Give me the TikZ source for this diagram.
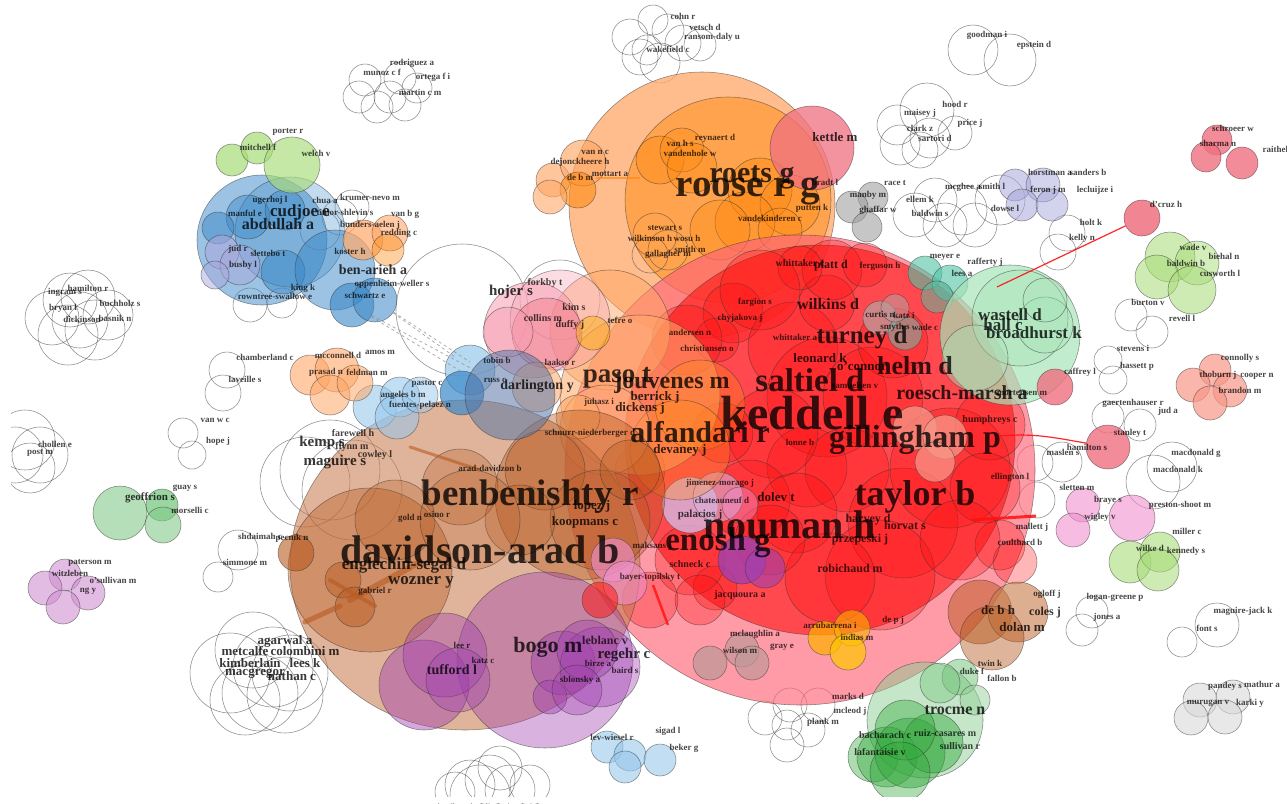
\documentclass[tikz,border=0pt]{standalone}
\usepackage{fontspec}
\setmainfont{Liberation Serif}
\definecolor{cRed}{HTML}{FF1010}
\definecolor{cPink}{HTML}{FF6478}
\definecolor{cOrange}{HTML}{FF8A10}
\definecolor{cPeach}{HTML}{FFA868}
\definecolor{cBrown}{HTML}{B85A20}
\definecolor{cTan}{HTML}{C87848}
\definecolor{cPurple}{HTML}{A040B0}
\definecolor{cBlue}{HTML}{3A88C8}
\definecolor{cSky}{HTML}{98C8EC}
\definecolor{cSlate}{HTML}{5A78A8}
\definecolor{cLime}{HTML}{A8DC78}
\definecolor{cGreen}{HTML}{30A83A}
\definecolor{cMint}{HTML}{A8E4B8}
\definecolor{cTeal}{HTML}{50C4A4}
\definecolor{cLav}{HTML}{A8A8DC}
\definecolor{cRose}{HTML}{F07080}
\definecolor{cSalmon}{HTML}{F89888}
\definecolor{cMagenta}{HTML}{F090D0}
\definecolor{cGold}{HTML}{FFB000}
\definecolor{cGray}{HTML}{A0A0A0}
\definecolor{cMauve}{HTML}{C09898}
\definecolor{cOrchid}{HTML}{D090D0}
\definecolor{cLilac}{HTML}{D8B0D8}
\definecolor{cPinkL}{HTML}{F8A0B4}
\tikzset{
  bub/.style={draw=black!80, draw opacity=0.55, line width=0.55pt},
  ring/.style={draw=black!75, draw opacity=0.6, line width=0.55pt},
  lbl/.style={text=black, text opacity=0.72, inner sep=0pt},
  namedbub/.style={circle, inner sep=0pt, bub},
  redlink/.style={draw=cRed, line width=1.2pt, opacity=0.9},
  greylink/.style={draw=black!45, dashed, line width=0.8pt, opacity=0.7},
  brownlink/.style={draw=cBrown, opacity=0.6, line cap=round}
}
\begin{document}
\begin{tikzpicture}[x=1pt,y=-1pt]
\useasboundingbox (0,0) rectangle (1287,803);
\clip (0,0) rectangle (1287,803);
\fill[white] (0,0) rectangle (1287,803);

% ---- unfilled author rings ----
\foreach \xx/\yy/\rr in {
  668/30/16, 653/20/15, 683/43/18, 660/63/20, 647/50/15, 630/37/18, 640/57/18, 700/45/16,
  365/80/16, 359/97/16, 377/107/16, 390/97/16, 405/105/16, 417/88/15, 400/78/16,
  973/50/25, 1010/60/26,
  897/125/20, 927/110/27, 900/145/20, 920/150/18, 955/133/17, 930/138/20,
  935/200/22, 962/210/25, 915/215/22, 945/225/22, 1000/200/25, 975/225/22,
  1067/233/18, 1058/252/18, 1131/315/16, 1152/332/16, 1108/360/14, 1113/380/14,
  1108/417/16, 1140/425/16, 1062/462/20, 1037/500/18, 1035/463/18,
  1172/467/25, 1153/482/27, 1092/612/16, 1082/630/16, 1217/625/22, 1182/642/15,
  227/370/18, 223/393/18, 183/433/15, 192/455/14,
  52/318/27, 70/300/27, 88/297/27, 68/335/30, 95/330/30, 108/315/25, 80/320/28,
  25/440/30, 40/455/28, 15/455/28, 30/468/25,
  238/550/20, 218/577/15,
  253/650/38, 230/673/40, 273/667/40, 260/693/38, 290/673/38, 245/700/35, 285/695/38,
  470/785/25, 490/780/25, 510/790/25, 455/792/20, 500/768/22, 530/785/20, 480/795/30,
  765/718/17, 790/705/17, 818/705/17, 787/725/15, 808/730/17, 787/745/17,
  320/230/20, 352/207/17, 340/217/18, 250/305/17, 282/303/15,
  330/470/50, 305/482/45, 352/490/50, 462/310/66, 560/300/40}
  {\draw[ring] (\xx,\yy) circle (\rr);}

% ---- orange / peach cluster ----
\foreach \xx/\yy/\rr/\col/\op in {
  702/205/133/cPeach/.75, 728/200/103/cOrange/.5,
  660/160/24/cOrange/.45, 682/150/22/cOrange/.4, 692/168/25/cOrange/.4,
  760/190/32/cOrange/.45, 790/205/30/cOrange/.4, 745/222/30/cOrange/.4,
  720/230/30/cOrange/.35, 780/230/22/cOrange/.35,
  553/180/17/cPeach/.65, 583/163/23/cPeach/.65, 578/190/18/cOrange/.6, 550/197/17/cPeach/.6,
  812/148/42/cRose/.75}
  {\filldraw[bub, fill=\col, fill opacity=\op] (\xx,\yy) circle (\rr);}
\foreach \xx/\yy/\rr in {655/235/22, 668/250/20, 650/255/18}
  {\draw[ring] (\xx,\yy) circle (\rr);}

% ---- red cluster ----
\filldraw[bub, fill=cPink, fill opacity=.65] (800,470) circle (235);
\filldraw[bub, fill=cRed, fill opacity=.58] (820,440) circle (195);
\foreach \xx/\yy/\rr in {
  733/313/30, 717/340/22, 793/347/45, 827/303/28, 827/397/60, 807/467/40, 847/470/42,
  873/397/50, 893/343/35, 773/433/45, 750/500/40, 797/513/40, 903/523/55, 723/433/30,
  687/340/35, 880/575/55, 830/578/45, 770/540/35, 715/588/22, 690/560/35, 832/270/30,
  800/268/22, 950/468/60, 990/425/35, 985/488/35, 1000/545/25, 1015/562/22, 960/540/40,
  865/265/22, 760/290/40, 700/600/25, 650/600/28, 640/470/25}
  {\filldraw[bub, fill=cRed, fill opacity=.3] (\xx,\yy) circle (\rr);}
\foreach \xx/\yy/\rr/\col/\op in {
  915/428/22/cSalmon/.75, 945/437/22/cSalmon/.75, 935/462/20/cSalmon/.7,
  690/505/28/cLilac/.85, 718/497/25/cLilac/.6, 740/505/18/cMagenta/.4,
  742/560/24/cPurple/.8, 765/568/20/cPurple/.6,
  825/638/17/cGold/.7, 852/628/18/cGold/.6, 848/652/18/cGold!70!yellow/.7,
  710/663/17/cMauve/.75, 742/650/17/cMauve/.7, 752/663/17/cMauve/.7,
  880/318/17/cMauve/.8, 905/333/17/cGray!60!cTeal/.6, 895/308/14/cMauve/.6,
  925/273/17/cTeal/.6, 950/283/18/cTeal/.6, 937/297/16/cTeal/.5,
  873/197/15/cGray/.6, 852/207/16/cGray/.6, 867/227/15/cGray/.6}
  {\filldraw[bub, fill=\col, fill opacity=\op] (\xx,\yy) circle (\rr);}

% ---- peach and pink middle ----
\foreach \xx/\yy/\rr/\col/\op in {
  610/330/60/cPeach/.5, 640/395/80/cPeach/.55, 700/405/45/cOrange/.3, 680/450/50/cOrange/.3,
  605/430/45/cPeach/.4, 578/417/22/cPeach/.6,
  532/330/48/cPinkL/.55, 560/320/50/cPinkL/.35, 547/333/35/cRose/.4, 508/332/25/cPinkL/.5,
  593/333/17/cGold/.45}
  {\filldraw[bub, fill=\col, fill opacity=\op] (\xx,\yy) circle (\rr);}

% ---- brown cluster ----
\filldraw[bub, fill=cTan, fill opacity=.55] (465,565) ellipse [x radius=175, y radius=165];
\foreach \xx/\yy/\rr/\op in {
  370/570/82/.4, 580/495/85/.4, 545/470/40/.35, 460/487/38/.3, 343/580/18/.45, 355/607/20/.45,
  600/520/50/.35, 630/470/30/.35, 395/520/40/.3, 296/553/18/.6, 520/520/35/.3, 470/520/50/.25}
  {\filldraw[bub, fill=cBrown, fill opacity=\op] (\xx,\yy) circle (\rr);}
\filldraw[bub, fill=cPeach, fill opacity=.55] (537,387) circle (25);
\draw[brownlink, line width=3pt] (410,447) -- (480,470);
\draw[brownlink, line width=6pt] (350,600) -- (420,562);
\draw[brownlink, line width=5pt] (305,622) -- (340,606);
\draw[brownlink, line width=4pt] (330,580) -- (375,606);

% ---- purple cluster ----
\foreach \xx/\yy/\rr/\col/\op in {
  545/660/88/cPurple/.4, 424/685/45/cPurple/.45, 445/655/42/cPurple/.4, 458/680/32/cPurple/.35,
  563/663/32/cPurple/.45, 600/667/40/cPurple/.4, 587/650/30/cPurple/.4, 550/697/17/cPurple/.45,
  577/690/25/cPurple/.35,
  613/560/22/cMagenta/.6, 625/583/22/cMagenta/.55, 600/600/18/cRed/.5}
  {\filldraw[bub, fill=\col, fill opacity=\op] (\xx,\yy) circle (\rr);}

% ---- blue, green and smaller clusters ----
\foreach \xx/\yy/\rr/\col/\op in {
  262/240/65/cBlue/.5, 290/232/55/cBlue/.3, 248/217/22/cBlue/.45, 285/210/20/cBlue/.45,
  218/228/16/cBlue/.5, 222/252/17/cLav/.6, 240/265/20/cLav/.5, 283/272/22/cBlue/.5,
  335/270/40/cBlue/.5, 215/275/14/cLav/.5,
  363/240/20/cPeach/.7, 390/233/18/cPeach/.6, 388/250/16/cOrange/.4,
  232/160/16/cLime/.7, 257/148/16/cLime/.7, 292/165/28/cLime/.65,
  470/370/25/cSky/.7, 462/393/22/cBlue/.7, 510/395/45/cSlate/.55,
  375/407/22/cSky/.6, 400/397/20/cSky/.6, 397/417/22/cSky/.55, 420/395/18/cSky/.5,
  310/375/20/cPeach/.6, 337/370/22/cPeach/.6, 330/395/20/cPeach/.55, 355/383/18/cPeach/.55,
  120/513/27/cGreen!60/.6, 162/505/16/cGreen!80/.6, 163/525/18/cGreen!60/.6,
  65/575/16/cOrchid/.6, 45/588/17/cOrchid/.6, 88/593/17/cOrchid/.6, 63/607/17/cOrchid/.6,
  1010/335/70/cMint/.7, 1020/318/48/cMint/.4, 1045/325/28/cMint/.4, 975/358/33/cMint/.4,
  1045/300/22/cMint/.4,
  1055/387/18/cRose/.8,
  1217/140/15/cRose/.8, 1206/157/15/cRose/.8, 1242/163/16/cRose/.8,
  1015/185/16/cLav/.55, 1043/185/17/cLav/.5, 1022/205/16/cLav/.55, 1052/205/16/cLav/.5,
  1170/257/25/cLime/.55, 1197/263/22/cLime/.5, 1157/277/22/cLime/.55, 1192/290/24/cLime/.55,
  1215/370/16/cSalmon/.7, 1193/385/17/cSalmon/.7, 1230/390/17/cSalmon/.7, 1210/403/17/cSalmon/.7,
  1083/505/17/cMagenta/.6, 1073/530/17/cMagenta/.6, 1132/518/23/cMagenta/.6,
  1130/562/21/cLime/.6, 1160/552/20/cLime/.6, 1158/570/21/cLime/.55,
  980/612/32/cBrown/.5, 1018/612/30/cTan/.6, 992/638/32/cBrown/.45,
  1200/700/17/cGray!40/.6, 1233/697/17/cGray!40/.6, 1191/718/17/cGray!40/.6, 1225/717/17/cGray!40/.6,
  925/720/58/cGreen!55/.5, 960/677/18/cGreen!70/.5, 940/683/20/cGreen!60/.5, 975/700/15/cGreen!50/.5,
  873/757/25/cGreen/.4, 887/757/30/cGreen/.4, 910/753/35/cGreen/.45, 933/743/30/cGreen/.45,
  905/730/30/cGreen/.4, 900/772/30/cGreen/.4,
  607/747/16/cSky/.6, 630/755/16/cSky/.6, 625/767/16/cSky/.6, 660/760/16/cSky/.6}
  {\filldraw[bub, fill=\col, fill opacity=\op] (\xx,\yy) circle (\rr);}

% ---- bubbles that carry links ----
\node[namedbub, minimum size=36pt, fill=cRose, fill opacity=.85] (dcruz) at (1142,218) {};
\node[namedbub, minimum size=44pt, fill=cRose, fill opacity=.8] (hamS) at (1108,447) {};
\node[namedbub, minimum size=44pt, fill=cBlue, fill opacity=.6] (schw) at (352,305) {};
\node[namedbub, minimum size=44pt, fill=cBlue, fill opacity=.55] (oppw) at (375,300) {};
\coordinate (wastC) at (997,287);
\coordinate (gillC) at (1000,436);
\coordinate (tayR) at (972,520);
\coordinate (malJ) at (1036,516);
\coordinate (jacA) at (653,585);
\coordinate (jacB) at (668,625);
\coordinate (molA) at (596,178);
\coordinate (vdhW) at (640,178);
\coordinate (hb1) at (455,357);
\coordinate (hb2) at (470,362);
\coordinate (hb3) at (462,372);
\coordinate (hb4) at (478,372);

\draw[redlink] (dcruz) -- (wastC);
\draw[redlink] (gillC) to[out=5, in=170] (hamS);
\draw[draw=cRed, line width=3pt, opacity=.85] (tayR) -- (malJ);
\draw[draw=cRed, line width=2.5pt, opacity=.8] (jacA) -- (jacB);
\draw[draw=cOrange, line width=1.4pt, opacity=.7] (molA) -- (vdhW);
\draw[greylink] (oppw) -- (hb1);
\draw[greylink] (oppw) -- (hb2);
\draw[greylink] (schw) -- (hb3);
\draw[greylink] (schw) -- (hb4);

% ---- labels ----
\foreach \xx/\yy/\ss/\txt [count=\i] in {
  683/16/9/cohn r, 705/27/9/vetsch d, 712/37/9/ransom-daly u, 668/49/9/wakefield c,
  412/63/9/rodriguez a, 382/72/9/munoz c f, 433/77/9/ortega f i, 420/92/9/martin c m,
  987/35/9/goodman i, 1034/45/9/epstein d,
  1233/128/9/schroeer w, 1218/143/9/sharma n, 1290/149/9/raithelhuber e,
  1166/204/9/d'cruz h, 1050/172/9/horstman a, 1088/172/9/sanders b, 1048/190/9/feron j m,
  1095/190/9/lecluijze i, 1091/222/9/holt k, 1082/238/9/kelly n,
  1193/247/9/wade v, 1224/256/9/biehal n, 1186/263/9/baldwin b, 1220/273/9/cusworth l,
  1148/302/9/burton v, 1182/318/9/revell l, 1133/348/9/stevens i, 1137/366/9/hassett p,
  1240/358/9/connolly s, 1218/375/9/thoburn j, 1257/376/9/cooper n, 1240/390/9/brandon m,
  1080/372/9/caffrey l, 1133/403/9/gaertenhauser r, 1168/411/9/jud a, 1130/433/9/stanley t,
  1087/447/9/hamilton s, 1063/452/9/maslen s, 1077/487/9/sletten m,
  1196/453/9/macdonald g, 1178/469/9/macdonald k,
  1108/500/9/braye s, 1100/517/9/wigley v, 1180/505/9/preston-shoot m,
  1187/531/9/miller c, 1150/548/9/wilke d, 1186/551/9/kennedy s,
  1115/597/9/logan-greene p, 1107/617/9/jones a, 1243/611/9/maguire-jack k, 1207/628/9/font s,
  1225/686/9/pandey s, 1262/684/9/mathur a, 1208/703/9/murugan v, 1250/703/9/karki y,
  1047/594/9/ogloff j, 990/663/9/twin k, 1002/678/9/fallon b, 972/671/9/duke f,
  945/733/10/ruiz-casares m, 960/746/10/sullivan r, 885/735/10/bacharach c,
  880/752/10/lafantaisie v,
  88/288/9/hamilton r, 65/292/9/ingram s, 120/303/9/buchholz s, 63/308/9/bryan l,
  82/319/9/dickinson, 115/318/9/basnik n,
  265/357/9/chamberland c, 245/379/9/laveille s, 215/420/9/van w c, 218/441/9/hope j,
  55/444/9/chollen e, 40/453/9/post m, 185/488/9/guay s, 190/510/9/morselli c,
  260/536/9/shdaimah c, 292/538/9/pecnik n, 245/562/9/simmone m,
  90/563/9/paterson m, 70/573/9/witzleben, 113/580/9/o'sullivan m, 88/591/9/ng y,
  288/132/9/porter r, 258/147/9/mitchell f, 316/153/9/welch v,
  270/200/9/ugerhoj l, 325/200/9/chua a, 245/213/9/manful e, 238/249/9/jud r,
  268/253/9/slettebo t, 243/265/9/busby l,
  370/197/9/krumer-nevo m, 345/212/9/timor-shlevin s, 405/214/9/van b g,
  370/225/9/bunders-aelen j, 399/233/9/redding c, 350/251/9/koster h,
  392/284/9/oppenheim-weller s, 365/295/9/schwartz e, 275/296/9/rowntree-swallow e, 303/288/9/king k,
  545/283/10/forkby t, 543/318/10/collins m, 574/307/10/kim s, 570/325/10/duffy j, 620/320/9/tefre o,
  560/362/9/laakso r, 497/360/9/tobin b, 495/380/9/russ c, 599/402/9/juhasz i,
  590/433/9/schnurr-niederberger d,
  338/355/9/mcconnell d, 380/352/9/amos m, 326/372/9/prasad n, 367/372/9/feldman m,
  427/384/9/pastor c, 403/395/9/angeles b m, 420/405/9/fuentes-pelaez n,
  353/433/10/farewell h, 352/447/10/flynn m, 375/455/10/cowley l,
  490/468/9/arad-davidzon b, 437/514/9/osino r, 410/518/9/gold n, 375/591/9/gabriel r,
  462/645/9/lee r, 483/660/9/katz c, 598/663/9/birze a, 625/670/9/baird s, 580/680/9/sblonsky a,
  605/640/12/leblanc v,
  612/737/9/lev-wiesel r, 668/731/9/sigad l, 684/748/9/beker g,
  755/634/9/mclaughlin a, 740/650/9/wilson m, 782/647/9/gray e,
  830/625/9/arrubarrena i, 857/637/9/indias m, 893/620/9/de p j,
  848/696/9/marks d, 850/711/9/mcleod j, 823/722/9/plank m,
  595/152/9/van n c, 580/162/9/dejonckheere h, 580/177/9/de b m, 610/174/9/mottart a,
  680/143/9/van h s, 715/138/9/reynaert d, 690/153/9/vandenhole w,
  825/182/9/bradt l, 868/195/9/manby m, 878/210/9/ghaffar w, 895/183/9/race t,
  770/218/9/vandekinderen c, 812/208/9/putten k,
  665/228/9/stewart s, 650/238/9/wilkinson h, 687/238/9/wosu h, 690/249/9/smith m, 668/254/9/gallagher m,
  920/113/9/maisey j, 955/104/9/hood r, 970/123/9/price j, 920/128/9/clark z, 935/138/9/sartori d,
  963/187/9/mcghee a, 992/186/9/smith l, 920/199/9/ellem k, 930/213/9/baldwin s, 1005/208/9/dowse l,
  800/263/10/whittaker c, 880/266/9/ferguson h, 945/257/9/meyer e, 985/262/9/rafferty j, 962/273/9/lees a,
  755/302/9/fargion s, 740/318/9/chyjakova j, 795/337/9/whittaker a, 690/332/9/andersen n,
  707/348/9/christiansen o, 880/314/9/curtis n, 904/315/9/katz i, 895/327/9/smyth s, 925/327/9/wade c,
  855/385/9/samuelsen v, 1022/393/9/mortensen m, 800/442/9/lonne b,
  990/420/10/humphreys c, 1010/477/9/ellington l, 1032/527/9/mallett j, 1020/542/9/coulthard b,
  720/483/9/jimenez-morago j, 722/500/9/chateauneuf d, 700/515/11/palacios j,
  905/525/12/horvat s, 868/520/12/harvey d, 860/540/12/przepeski j, 850/568/12/robichaud m,
  690/564/10/schneck c, 740/595/10/jacquoura a, 652/546/9/maksans j, 650/577/9/bayer-topilsky t}
  {\node[lbl, font=\fontsize{\ss}{\ss}\selectfont\bfseries] (s\i) at (\xx,\yy) {\txt};}

\foreach \xx/\yy/\ss/\txt [count=\i] in {
  812/413/48/keddell e, 810/380/33/saltiel d, 700/432/30/alfandari r, 915/440/32/gillingham p,
  915/497/36/taylor b, 790/525/40/nouman h, 718/543/33/enosh g,
  530/497/37/benbenishty r, 480/550/40/davidson-arad b,
  748/191/39/roose r g, 752/177/30/roets g,
  617/378/27/paso t, 672/383/24/jouvenes m,
  862/338/25/turney d, 915/366/26/helm d, 828/304/16/wilkins d, 831/266/12/platt d,
  962/393/20/roesch-marsh a, 1010/315/17/wastell d, 1034/333/17/broadhurst k, 1003/325/17/hall c,
  835/137/13/kettle m, 278/224/16/abdullah a, 300/212/17/cudjoe e, 373/270/14/ben-arieh a,
  511/292/15/hojer s, 537/386/14/darlington y, 322/443/15/kemp s, 335/462/15/maguire s,
  548/647/22/bogo m, 452/670/14/tufford l, 624/655/15/regehr c, 955/710/16/trocme n,
  998/610/13/de b h, 1022/627/13/dolan m, 1045/613/12/coles j,
  404/565/17/englechin-segal d, 421/582/17/wozner y, 585/522/13/koopmans c, 592/506/13/lopez j,
  655/397/13/berrick j, 640/408/13/dickens j, 680/450/13/devaney j,
  820/358/13/leonard k, 862/366/13/o'connor, 776/497/13/dolev t,
  150/498/11/geoffrion s,
  285/641/13/agarwal a, 245/651/13/metcalfe, 305/651/13/colombini m, 250/663/13/kimberlain,
  305/663/13/lees k, 255/674/13/macgregor, 292/676/13/nathan c}
  {\node[lbl, text opacity=0.78, font=\fontsize{\ss}{\ss}\selectfont\bfseries] (b\i) at (\xx,\yy) {\txt};}

% trimmed margins of the export
\fill[white] (0,0) rectangle (11,803);
\fill[white] (0,797) rectangle (1287,803);
\end{tikzpicture}
\end{document}
